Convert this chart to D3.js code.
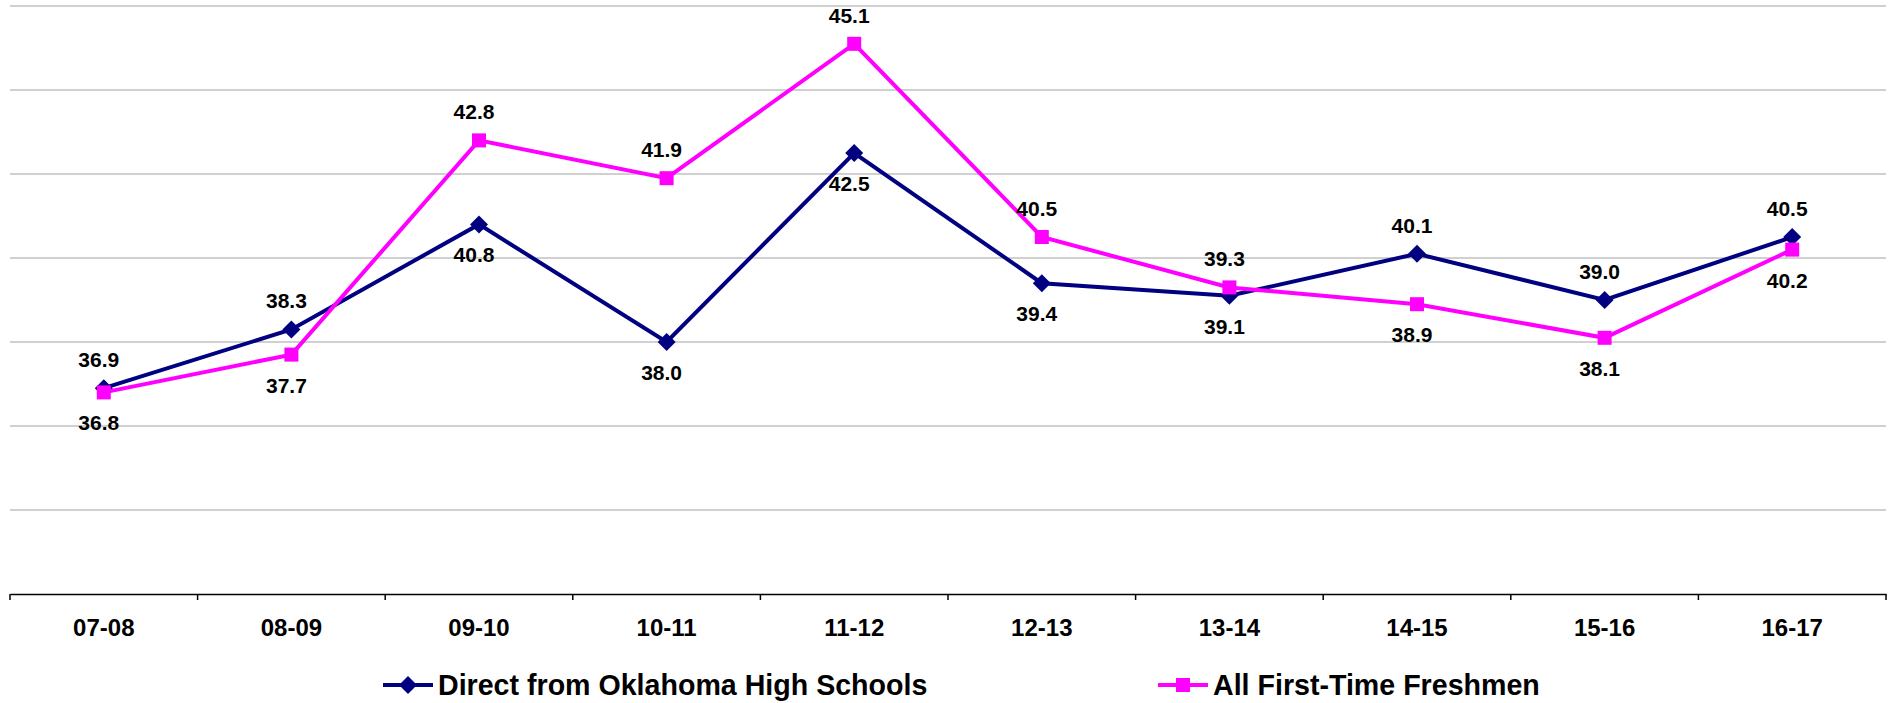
<!DOCTYPE html>
<html lang="en">

<head>
    <meta charset="UTF-8">
    <title>Direct vs All First-Time Freshmen</title>
    <script src="https://d3js.org/d3.v7.min.js"></script>
    <style>
        body { margin: 0; background: white; }
        text { font-family: Arial, "Liberation Sans", sans-serif; font-weight: bold; fill: black; }
    </style>
</head>

<body>
    <script>
        // data
        const years = ['07-08', '08-09', '09-10', '10-11', '11-12', '12-13', '13-14', '14-15', '15-16', '16-17'];
        const directOK = [36.9, 38.3, 40.8, 38.0, 42.5, 39.4, 39.1, 40.1, 39.0, 40.5];
        const allFreshmen = [36.8, 37.7, 42.8, 41.9, 45.1, 40.5, 39.3, 38.9, 38.1, 40.2];
        const gridTicks = [34, 36, 38, 40, 42, 44, 46];

        const seriesList = [
            { name: 'Direct from Oklahoma High Schools', values: directOK, color: '#000080', shape: 'diamond' },
            { name: 'All First-Time Freshmen', values: allFreshmen, color: '#ff00ff', shape: 'square' }
        ];

        let width = 1894;
        let height = 703;
        let plotLeft = 10, plotRight = 1886, plotTop = 6, plotBottom = 594;

        let svg = d3.select('body').append('svg')
            .attr('width', width)
            .attr('height', height);

        let xScale = d3.scaleBand().domain(years).range([plotLeft, plotRight]);
        let yScale = d3.scaleLinear().domain([32, 46]).range([plotBottom, plotTop]);

        // gridlines
        svg.append('g').selectAll('line')
            .data(gridTicks)
            .enter().append('line')
            .attr('x1', plotLeft).attr('x2', plotRight)
            .attr('y1', d => yScale(d)).attr('y2', d => yScale(d))
            .attr('stroke', '#c0c0c0').attr('stroke-width', 1.5);

        // x axis with ticks between categories
        let xAxis = svg.append('g')
            .attr('transform', 'translate(0,' + plotBottom + ')')
            .call(d3.axisBottom(xScale).tickSize(0).tickPadding(25));
        xAxis.select('.domain').attr('stroke', 'black').attr('stroke-width', 1.5);
        xAxis.selectAll('text').style('font-size', '24px').attr('fill', 'black');
        xAxis.selectAll('.bound')
            .data(years.map(d => xScale(d)).concat([plotRight]))
            .enter().append('line')
            .attr('x1', d => d).attr('x2', d => d)
            .attr('y1', 0).attr('y2', 6)
            .attr('stroke', 'black').attr('stroke-width', 1.5);

        let line = d3.line()
            .x((d, i) => xScale(years[i]) + xScale.bandwidth() / 2)
            .y(d => yScale(d));

        // square-ish diamond like the spreadsheet marker
        const excelDiamond = {
            draw: function (context, size) {
                let r = Math.sqrt(size / 2);
                context.moveTo(0, -r);
                context.lineTo(r, 0);
                context.lineTo(0, r);
                context.lineTo(-r, 0);
                context.closePath();
            }
        };

        function drawMarker(g, shape, color, x, y) {
            if (shape === 'diamond') {
                g.append('path')
                    .attr('d', d3.symbol(excelDiamond, 162)())
                    .attr('transform', 'translate(' + x + ',' + y + ')')
                    .attr('fill', color);
            } else {
                g.append('rect')
                    .attr('x', x - 7).attr('y', y - 7)
                    .attr('width', 14).attr('height', 14)
                    .attr('fill', color);
            }
        }

        seriesList.forEach((s, si) => {
            let g = svg.append('g');
            g.append('path')
                .datum(s.values)
                .attr('d', line)
                .attr('fill', 'none')
                .attr('stroke', s.color)
                .attr('stroke-width', 4);

            s.values.forEach((v, i) => {
                let x = xScale(years[i]) + xScale.bandwidth() / 2;
                drawMarker(g, s.shape, s.color, x, yScale(v));
            });
        });

        // value labels: the higher series gets its label above, the lower one below
        seriesList.forEach((s, si) => {
            let other = seriesList[1 - si].values;
            svg.append('g').selectAll('text')
                .data(s.values)
                .enter().append('text')
                .attr('x', (d, i) => xScale(years[i]) + xScale.bandwidth() / 2 - 5)
                .attr('y', (d, i) => {
                    let above = d > other[i] || (d === other[i] && si === 0);
                    return yScale(d) + (above ? -21 : 38);
                })
                .attr('text-anchor', 'middle')
                .style('font-size', '21px')
                .text(d => d.toFixed(1));
        });

        // legend
        let legendX = [383, 1158];
        seriesList.forEach((s, i) => {
            let g = svg.append('g').attr('transform', 'translate(' + legendX[i] + ',685)');
            g.append('line')
                .attr('x1', 0).attr('x2', 50)
                .attr('stroke', s.color).attr('stroke-width', 4);
            drawMarker(g, s.shape, s.color, 25, 0);
            g.append('text')
                .attr('x', 55).attr('y', 10)
                .style('font-size', '28.6px')
                .text(s.name);
        });
    </script>
</body>

</html>
